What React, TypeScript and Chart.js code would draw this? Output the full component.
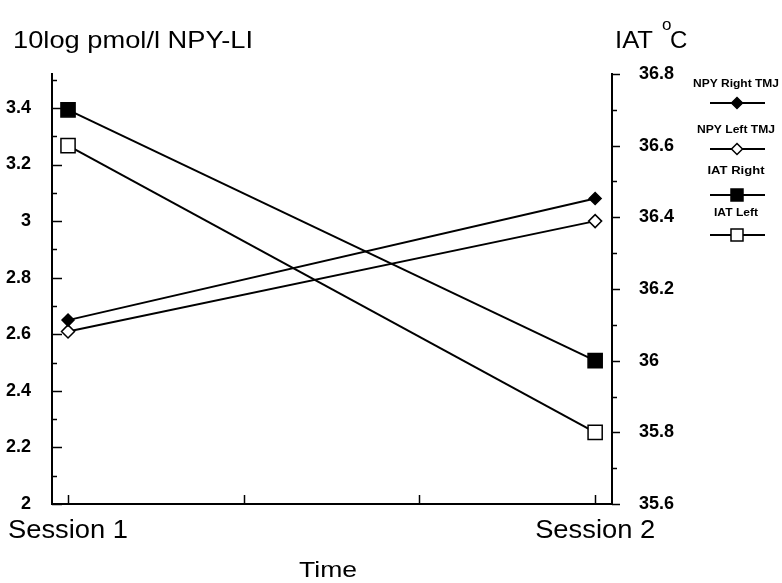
import React, { useEffect, useRef } from 'react';
import { Chart, registerables } from 'chart.js';

Chart.register(...registerables);

// ---- data ----
const sessions = ['Session 1', 'Session 2'];
const sessionX = [1, 2];
const npyRightTMJ = [2.65, 3.08];
const npyLeftTMJ = [2.61, 3.0];
const iatRight = [36.7, 36.0];
const iatLeft = [36.6, 35.8];
const seriesNames = ['NPY Right TMJ', 'NPY Left TMJ', 'IAT Right', 'IAT Left'];

// ---- ticks ----
const leftTicks = [2, 2.2, 2.4, 2.6, 2.8, 3, 3.2, 3.4];
const leftMinorTicks = [2.1, 2.3, 2.5, 2.7, 2.9, 3.1, 3.3, 3.5];
const rightTicks = [35.6, 35.8, 36, 36.2, 36.4, 36.6, 36.8];
const rightMinorTicks = [35.7, 35.9, 36.1, 36.3, 36.5, 36.7];
const xTicks = [1, 4 / 3, 5 / 3, 2];

const FAMILY = '"Liberation Sans", Arial, Helvetica, sans-serif';

function drawText(
  ctx: CanvasRenderingContext2D,
  text: string,
  x: number,
  y: number,
  size: number,
  bold: boolean,
  width: number | null,
  align: CanvasTextAlign
) {
  ctx.save();
  ctx.font = `${bold ? 'bold ' : ''}${size}px ${FAMILY}`;
  ctx.fillStyle = '#000';
  ctx.textBaseline = 'alphabetic';
  ctx.textAlign = align;
  const w = ctx.measureText(text).width;
  const sx = width ? width / w : 1;
  ctx.translate(x, y);
  ctx.scale(sx, 1);
  ctx.fillText(text, 0, 0);
  ctx.restore();
}

function drawMarker(ctx: CanvasRenderingContext2D, style: string, filled: boolean, x: number, y: number, r: number) {
  ctx.save();
  ctx.beginPath();
  if (style === 'rectRot') {
    ctx.moveTo(x, y - r);
    ctx.lineTo(x + r, y);
    ctx.lineTo(x, y + r);
    ctx.lineTo(x - r, y);
    ctx.closePath();
  } else {
    ctx.rect(x - r, y - r, 2 * r, 2 * r);
  }
  ctx.fillStyle = filled ? '#000' : '#fff';
  ctx.fill();
  ctx.lineWidth = 1.5;
  ctx.strokeStyle = '#000';
  ctx.stroke();
  ctx.restore();
}

const decorPlugin = {
  id: 'decor',
  afterDraw(chart: any) {
    const ctx: CanvasRenderingContext2D = chart.ctx;
    const area = chart.chartArea;
    const yL = chart.scales.y;
    const yR = chart.scales.y1;
    const xs = chart.scales.x;

    // tick marks
    ctx.save();
    ctx.strokeStyle = '#000';
    ctx.lineWidth = 1.5;
    const line = (x1: number, y1: number, x2: number, y2: number) => {
      ctx.beginPath();
      ctx.moveTo(x1, y1);
      ctx.lineTo(x2, y2);
      ctx.stroke();
    };
    leftTicks.forEach((v) => {
      const p = Math.round(yL.getPixelForValue(v)) + 0.5;
      line(area.left, p, area.left + 10, p);
    });
    leftMinorTicks.forEach((v) => {
      const p = Math.round(yL.getPixelForValue(v)) + 0.5;
      line(area.left, p, area.left + 5, p);
    });
    rightTicks.forEach((v) => {
      const p = Math.round(yR.getPixelForValue(v)) + 0.5;
      line(area.right, p, area.right + 8, p);
    });
    rightMinorTicks.forEach((v) => {
      const p = Math.round(yR.getPixelForValue(v)) + 0.5;
      line(area.right, p, area.right + 5, p);
    });
    xTicks.forEach((v) => {
      const p = Math.round(xs.getPixelForValue(v)) + 0.5;
      line(p, area.bottom, p, area.bottom - 9);
    });
    ctx.restore();

    // axis titles
    drawText(ctx, '10log pmol/l NPY-LI', 13, 48, 24, false, 240, 'left');
    drawText(ctx, 'IAT', 615, 48, 24, false, 38, 'left');
    drawText(ctx, 'o', 662, 30, 17, false, null, 'left');
    drawText(ctx, 'C', 670, 48, 24, false, null, 'left');

    // session labels
    sessions.forEach((s, i) => {
      drawText(ctx, s, xs.getPixelForValue(sessionX[i]), 538, 25, false, 120, 'center');
    });
    drawText(ctx, 'Time', 328, 577, 22, false, 58, 'center');

    // legend
    const rows = [
      [87, 103, 86],
      [133, 149, 78],
      [174, 195, 57],
      [216, 235, 44],
    ];
    chart.data.datasets.forEach((ds: any, i: number) => {
      const [tb, ly, tw] = rows[i];
      drawText(ctx, ds.label, 736, tb, 10, true, tw, 'center');
      ctx.save();
      ctx.strokeStyle = '#000';
      ctx.lineWidth = 2;
      ctx.beginPath();
      ctx.moveTo(710, ly);
      ctx.lineTo(765, ly);
      ctx.stroke();
      ctx.restore();
      const isSquare = ds.pointStyle === 'rect';
      drawMarker(ctx, ds.pointStyle, ds.pointBackgroundColor === '#000', 737, ly, isSquare ? 6 : 5.5);
    });
  },
};

function pts(values: number[]) {
  return values.map((v, i) => ({ x: sessionX[i], y: v }));
}

function fmt(v: number) {
  return `${+Number(v).toFixed(2)}`;
}

export default function App() {
  const ref = useRef<HTMLCanvasElement>(null);

  useEffect(() => {
    if (!ref.current) return;
    const common = {
      borderColor: '#000',
      borderWidth: 2,
      pointBorderColor: '#000',
      pointBorderWidth: 1.5,
      showLine: true,
      clip: false as any,
    };
    const chart = new Chart(ref.current, {
      type: 'line',
      data: {
        datasets: [
          {
            ...common,
            label: seriesNames[0],
            data: pts(npyRightTMJ),
            yAxisID: 'y',
            pointStyle: 'rectRot',
            pointRadius: 6,
            pointBackgroundColor: '#000',
          },
          {
            ...common,
            label: seriesNames[1],
            data: pts(npyLeftTMJ),
            yAxisID: 'y',
            pointStyle: 'rectRot',
            pointRadius: 6.5,
            pointBackgroundColor: '#fff',
          },
          {
            ...common,
            label: seriesNames[2],
            data: pts(iatRight),
            yAxisID: 'y1',
            pointStyle: 'rect',
            pointRadius: 10,
            pointBackgroundColor: '#000',
          },
          {
            ...common,
            label: seriesNames[3],
            data: pts(iatLeft),
            yAxisID: 'y1',
            pointStyle: 'rect',
            pointRadius: 10,
            pointBackgroundColor: '#fff',
          },
        ] as any,
      },
      options: {
        responsive: false,
        animation: false,
        devicePixelRatio: 1,
        layout: { padding: { left: 0, right: 90, top: 74, bottom: 0 } },
        plugins: { legend: { display: false }, tooltip: { enabled: false } },
        scales: {
          x: {
            type: 'linear',
            position: 'bottom',
            min: 0.9696,
            max: 2.032,
            grid: { display: false },
            border: { display: true, color: '#000', width: 2 },
            ticks: { display: false },
            afterBuildTicks: (scale: any) => {
              scale.ticks = xTicks.map((v) => ({ value: v }));
            },
            afterFit: (scale: any) => {
              scale.height = 79;
            },
          },
          y: {
            type: 'linear',
            position: 'left',
            min: 2,
            max: 3.52,
            grid: { display: false },
            border: { display: true, color: '#000', width: 2 },
            ticks: {
              padding: 13,
              color: '#000',
              font: { family: FAMILY, size: 18, weight: 'bold' },
              callback: (v: any) => fmt(v),
            },
            afterBuildTicks: (scale: any) => {
              scale.ticks = leftTicks.map((v) => ({ value: v }));
            },
            afterFit: (scale: any) => {
              scale.width = 52;
            },
          },
          y1: {
            type: 'linear',
            position: 'right',
            min: 35.6,
            max: 36.8,
            grid: { display: false },
            border: { display: true, color: '#000', width: 2 },
            ticks: {
              padding: 19,
              color: '#000',
              font: { family: FAMILY, size: 18, weight: 'bold' },
              callback: (v: any) => fmt(v),
            },
            afterBuildTicks: (scale: any) => {
              scale.ticks = rightTicks.map((v) => ({ value: v }));
            },
            afterFit: (scale: any) => {
              scale.width = 80;
            },
          },
        },
      } as any,
      plugins: [decorPlugin],
    });
    return () => chart.destroy();
  }, []);

  return (
    <div style={{ position: 'fixed', left: 0, top: 0, width: 782, height: 583, background: '#fff' }}>
      <canvas ref={ref} width={782} height={583} style={{ display: 'block', width: 782, height: 583 }} />
    </div>
  );
}
